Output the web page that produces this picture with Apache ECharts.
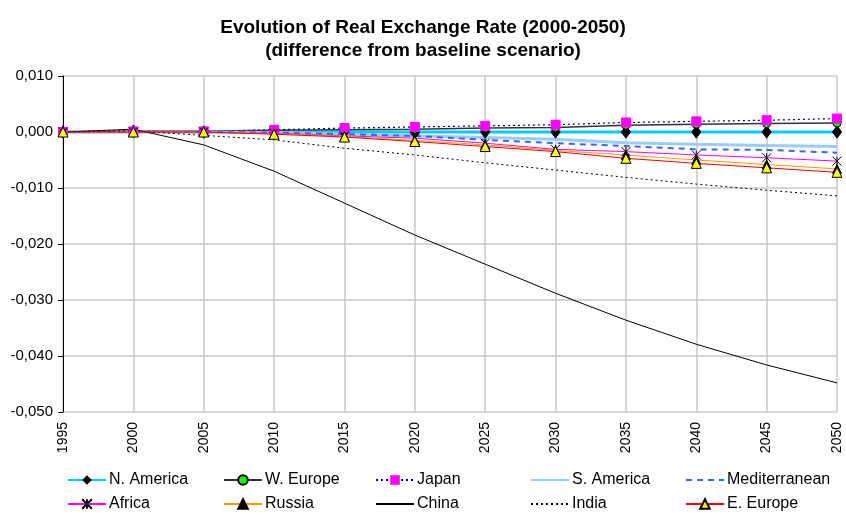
<!DOCTYPE html>
<html>
<head>
<meta charset="utf-8">
<script src="https://cdn.jsdelivr.net/npm/echarts@6/dist/echarts.min.js"></script>
<style>html,body{margin:0;padding:0;background:#fff}#c{width:846px;height:515px}</style>
</head>
<body>
<div id="c"></div>
<script>
var years = ['1995','2000','2005','2010','2015','2020','2025','2030','2035','2040','2045','2050'];
var nAmerica      = [0, 0.0001, 0, 0, 0, 0, 0, 0, 0, 0, 0, 0];
var wEurope       = [0, 0.0002, 0.0002, 0.0003, 0.0004, 0.0005, 0.0007, 0.0008, 0.0012, 0.0014, 0.0015, 0.0016];
var japan         = [0, 0.0001, 0.0001, 0.0004, 0.0007, 0.0009, 0.0011, 0.0013, 0.0017, 0.0019, 0.0021, 0.0024];
var sAmerica      = [0, 0, 0, -0.0001, -0.0004, -0.0007, -0.0010, -0.0013, -0.0019, -0.0022, -0.0024, -0.0026];
var mediterranean = [0, 0, 0, -0.0001, -0.0004, -0.0007, -0.0014, -0.0020, -0.0025, -0.0031, -0.0032, -0.0037];
var africa        = [0, 0, 0, -0.0002, -0.0007, -0.0011, -0.0020, -0.0031, -0.0035, -0.0041, -0.0046, -0.0052];
var russia        = [0, 0, 0, -0.0003, -0.0008, -0.0015, -0.0023, -0.0033, -0.0041, -0.0050, -0.0058, -0.0066];
var china         = [0, 0.0005, -0.0023, -0.0070, -0.0127, -0.0184, -0.0236, -0.0288, -0.0336, -0.0379, -0.0416, -0.0448];
var india         = [0, 0.0002, -0.0006, -0.0014, -0.0029, -0.0041, -0.0055, -0.0068, -0.0081, -0.0093, -0.0104, -0.0114];
var eEurope       = [0, 0, 0, -0.0004, -0.0009, -0.0017, -0.0026, -0.0035, -0.0047, -0.0056, -0.0064, -0.0072];
var seriesNames = ['N. America','W. Europe','Japan','S. America','Mediterranean','Africa','Russia','China','India','E. Europe'];

var FONT = "'Liberation Sans', Arial, sans-serif";
var asterisk = 'path://M0,0L10,10M10,0L0,10M5,0L5,10';

function mk(name, data, line, sym) {
  var s = {
    name: name, type: 'line', data: data,
    lineStyle: line,
    itemStyle: { color: line.color, borderColor: line.color },
    symbol: 'none', showSymbol: true, emphasis: { disabled: true }
  };
  if (sym) {
    s.symbol = sym.symbol;
    s.symbolSize = sym.size;
    s.itemStyle = sym.style;
  }
  return s;
}

var series = [
  mk(seriesNames[0], nAmerica, { color: '#00ccff', width: 3 }, { symbol: 'diamond', size: [9, 12], style: { color: '#000', borderColor: '#000' } }),
  mk(seriesNames[1], wEurope, { color: '#333333', width: 1.5 }, { symbol: 'circle', size: 8, style: { color: '#00ff00', borderColor: '#000', borderWidth: 1 } }),
  mk(seriesNames[2], japan, { color: '#000080', width: 1.2, type: [2, 3] }, { symbol: 'rect', size: 9, style: { color: '#ff00ff', borderColor: '#ff00ff' } }),
  mk(seriesNames[3], sAmerica, { color: '#99ccff', width: 3 }),
  mk(seriesNames[4], mediterranean, { color: '#3366ff', width: 2, type: [6, 5] }),
  mk(seriesNames[5], africa, { color: '#ff00ff', width: 1 }, { symbol: asterisk, size: 9, style: { color: 'transparent', borderColor: '#000', borderWidth: 1 } }),
  mk(seriesNames[6], russia, { color: '#ff9900', width: 1 }, { symbol: 'triangle', size: 9, style: { color: '#000', borderColor: '#000', borderWidth: 1 } }),
  mk(seriesNames[7], china, { color: '#000', width: 1 }),
  mk(seriesNames[8], india, { color: '#000', width: 1, type: [2, 3] }),
  mk(seriesNames[9], eEurope, { color: '#ff0000', width: 1 }, { symbol: 'triangle', size: 10, style: { color: '#ffff00', borderColor: '#000', borderWidth: 1 } })
];

var colX = [67, 223, 375, 530, 685];
var rowY = [472, 496];
var legends = seriesNames.map(function (n, i) {
  var noMarker = series[i].symbol === 'none';
  var lg = {
    data: [n], left: colX[i % 5], top: rowY[Math.floor(i / 5)], padding: 0,
    itemWidth: 38, itemHeight: 12, itemGap: 0,
    textStyle: { fontFamily: FONT, fontSize: 16, color: '#000', padding: [0, 0, 0, -2] },
    selectedMode: false
  };
  if (noMarker) { lg.itemStyle = { opacity: 0 }; }
  return lg;
});

var chart = echarts.init(document.getElementById('c'), null, { renderer: 'canvas' });
chart.setOption({
  animation: false,
  backgroundColor: '#fff',
  title: {
    text: 'Evolution of Real Exchange Rate (2000-2050)\n(difference from baseline scenario)',
    left: 'center', top: 11,
    textStyle: { fontFamily: FONT, fontSize: 19, fontWeight: 'bold', color: '#000', lineHeight: 23 }
  },
  legend: legends,
  grid: { left: 63, right: 9, top: 76, bottom: 103, containLabel: false },
  xAxis: {
    type: 'category', data: years, boundaryGap: false,
    axisLine: { show: true, lineStyle: { color: '#c0c0c0', width: 1 } },
    axisTick: { show: false },
    axisLabel: { rotate: 90, margin: 10, fontFamily: FONT, fontSize: 14, color: '#000', interval: 0 },
    splitLine: { show: true, lineStyle: { color: '#c8c8c8', width: 1.5 } }
  },
  yAxis: {
    type: 'value', min: -0.05, max: 0.01, interval: 0.01,
    axisLine: { show: true, lineStyle: { color: '#000', width: 1 } },
    axisTick: { show: true, length: 5, lineStyle: { color: '#000' } },
    axisLabel: {
      fontFamily: FONT, fontSize: 15, color: '#000', margin: 10,
      formatter: function (v) { var t = Math.abs(v) < 1e-9 ? 0 : v; return t.toFixed(3).replace('.', ','); }
    },
    splitLine: { show: true, lineStyle: { color: '#c8c8c8', width: 1.5 } }
  },
  series: series
});
</script>
</body>
</html>
